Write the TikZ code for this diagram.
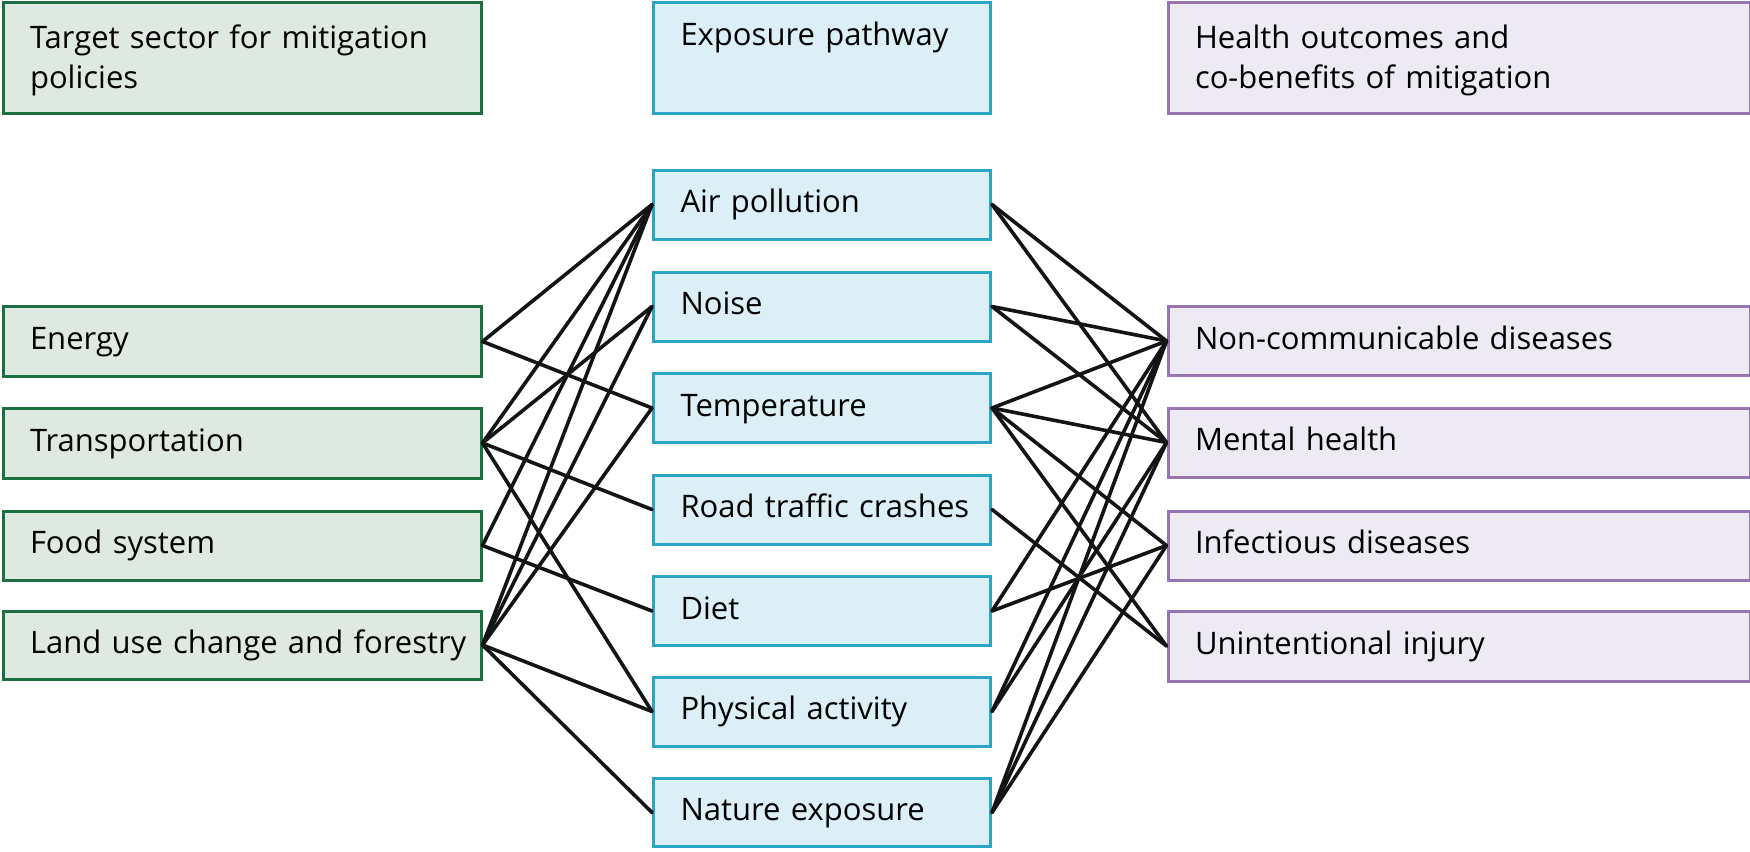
\documentclass[tikz,border=0pt]{standalone}
\usepackage{fontspec}
\setmainfont{Open Sans}
\definecolor{gborder}{HTML}{1C7040}
\definecolor{gfill}{HTML}{DDE9E1}
\definecolor{bborder}{HTML}{2AA5C6}
\definecolor{bfill}{HTML}{DCEFF7}
\definecolor{pborder}{HTML}{9475B2}
\definecolor{pfill}{HTML}{EEEAF4}
\definecolor{linkcol}{HTML}{141414}
\begin{document}
\begin{tikzpicture}[x=1pt,y=-1pt,
  basebox/.style={rectangle, line width=3pt, anchor=north west, inner xsep=0pt, inner ysep=0pt,
    align=left, font=\fontsize{31}{40}\selectfont,
    execute at begin node={\leftskip=27pt\strut}},
  lbox/.style={basebox, draw=gborder, fill=gfill, text width=478pt},
  mbox/.style={basebox, draw=bborder, fill=bfill, text width=337pt},
  rbox/.style={basebox, draw=pborder, fill=pfill, text width=582pt},
  link/.style={draw=linkcol, line width=3.6pt, line cap=round}]
\useasboundingbox (0,0) rectangle (1750,851);
% left column
\node[lbox, minimum height=110pt] (lhead) at (1.5,1.5) {Target sector for mitigation\\policies};
\node[lbox, minimum height=70pt] (energy) at (1.5,305) {Energy};
\node[lbox, minimum height=70pt] (trans) at (1.5,406.5) {Transportation};
\node[lbox, minimum height=69pt] (food) at (1.5,509.5) {Food system};
\node[lbox, minimum height=68pt] (land) at (1.5,609.5) {Land use change and forestry};
% middle column
\node[mbox, minimum height=110pt] (mhead) at (652,1.5) {Exposure pathway\\\strut};
\node[mbox, minimum height=69pt] (air) at (652,168.5) {Air pollution};
\node[mbox, minimum height=69pt] (noise) at (652,270.5) {Noise};
\node[mbox, minimum height=69pt] (temp) at (652,372) {Temperature};
\node[mbox, minimum height=69pt] (road) at (652,473.5) {Road traffic crashes};
\node[mbox, minimum height=69pt] (diet) at (652,575) {Diet};
\node[mbox, minimum height=69pt] (phys) at (652,675.5) {Physical activity};
\node[mbox, minimum height=68pt] (nature) at (652,777) {Nature exposure};
% right column
\node[rbox, minimum height=110pt] (rhead) at (1166.5,1.5) {Health outcomes and\\co-benefits of mitigation};
\node[rbox, minimum height=69pt] (ncd) at (1166.5,305) {Non-communicable diseases};
\node[rbox, minimum height=69pt] (mental) at (1166.5,406.5) {Mental health};
\node[rbox, minimum height=69pt] (inf) at (1166.5,509.5) {Infectious diseases};
\node[rbox, minimum height=70pt] (unint) at (1166.5,609.5) {Unintentional injury};
% left to middle
\foreach \a/\b in {energy/air, energy/temp, trans/air, trans/noise, trans/road, trans/phys,
  food/air, food/diet, land/air, land/noise, land/temp, land/phys, land/nature}
  \draw[link] (\a.east) -- (\b.west);
% middle to right
\foreach \a/\b in {air/ncd, air/mental, noise/ncd, noise/mental, temp/ncd, temp/mental, temp/inf, temp/unint,
  road/unint, diet/ncd, diet/inf, phys/ncd, phys/mental, nature/ncd, nature/mental, nature/inf}
  \draw[link] (\a.east) -- (\b.west);
\end{tikzpicture}
\end{document}
